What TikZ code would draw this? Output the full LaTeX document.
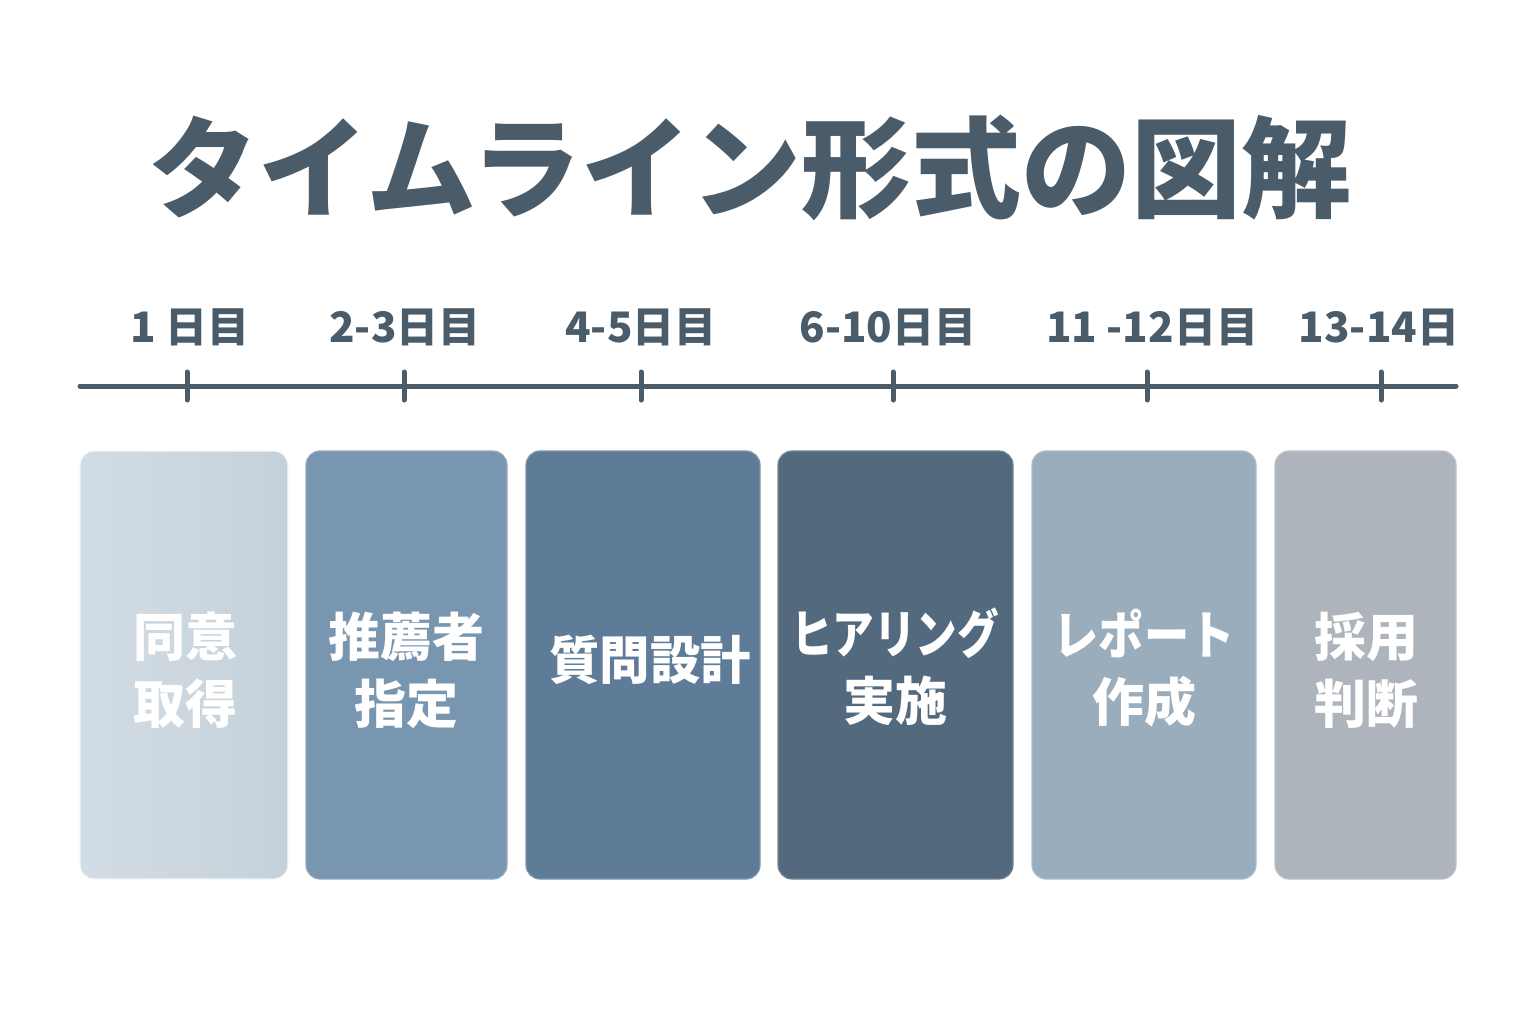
\documentclass[tikz,border=0pt]{standalone}
\usepackage{fontspec}
\newfontfamily\jp{Noto Sans CJK JP}
\definecolor{ink}{HTML}{4A5B69}
\definecolor{cA}{HTML}{C5D1DA}
\definecolor{cAl}{HTML}{D2DCE4}
\definecolor{cB}{HTML}{7896B0}
\definecolor{cC}{HTML}{5E7C98}
\definecolor{cD}{HTML}{53697D}
\definecolor{cE}{HTML}{9AADBD}
\definecolor{cF}{HTML}{AEB4BC}
\tikzset{
  card/.style={rounded corners=7pt, minimum height=214pt, inner sep=0pt, draw=#1!80!white, line width=0.6pt, fill=#1},
  cardtxt/.style={text=white, font=\jp\bfseries\fontsize{26}{33.5}\selectfont, align=center, inner sep=0pt},
  daylbl/.style={text=ink, font=\jp\bfseries\fontsize{21}{24}\selectfont, inner sep=0pt},
  tick/.style={draw=ink, line width=2.5pt, line cap=round},
}
\begin{document}
\begin{tikzpicture}[x=0.5pt,y=-0.5pt]
\useasboundingbox[fill=white] (0,0) rectangle (1536,1024);
% title
\node[text=ink, font=\jp\bfseries\fontsize{55}{60}\selectfont, inner sep=0pt] (title) at (750,168) {タイムライン形式の図解};
% timeline
\coordinate (tl0) at (80,386);
\coordinate (tl1) at (1456,386);
\draw[tick] (tl0) -- (tl1);
\foreach \x/\n in {187/a,404/b,641/c,893/d,1147/e,1381/f}{
  \coordinate (t\n) at (\x,386);
  \draw[tick] ([yshift=7pt]t\n) -- ([yshift=-7pt]t\n);
}
% labels
\node[daylbl] (la) at (190,327) {1 日目};
\node[daylbl] (lb) at (405,327) {2-3日目};
\node[daylbl] (lc) at (641,327) {4-5日目};
\node[daylbl] (ld) at (888,327) {6-10日目};
\node[daylbl] (le) at (1152,327) {11 -12日目};
\node[daylbl] (lf) at (1379,327) {13-14日};
% cards
\node[card=cA, minimum width=104pt, left color=cAl, right color=cA, draw=white!85!cA] (ba) at (184,665) {};
\node[card=cB, minimum width=100.5pt] (bb) at (406.5,665) {};
\node[card=cC, minimum width=117pt] (bc) at (643,665) {};
\node[card=cD, minimum width=117.5pt] (bd) at (895.5,665) {};
\node[card=cE, minimum width=112pt] (be) at (1144,665) {};
\node[card=cF, minimum width=90.5pt] (bf) at (1365.5,665) {};
% card texts
\node[cardtxt] (xa) at (185,670) {同意\\取得};
\node[cardtxt] (xb) at (406,670) {推薦者\\指定};
\node[cardtxt] (xc) at (650,660) {\scalebox{0.97}[1]{質問設計}};
\node[cardtxt] (xd) at (895,667) {\scalebox{0.8}[1]{ヒアリング}\\実施};
\node[cardtxt] (xe) at (1144,668) {\scalebox{0.87}[1]{レポート}\\作成};
\node[cardtxt] (xf) at (1366,670) {採用\\判断};
\end{tikzpicture}
\end{document}
